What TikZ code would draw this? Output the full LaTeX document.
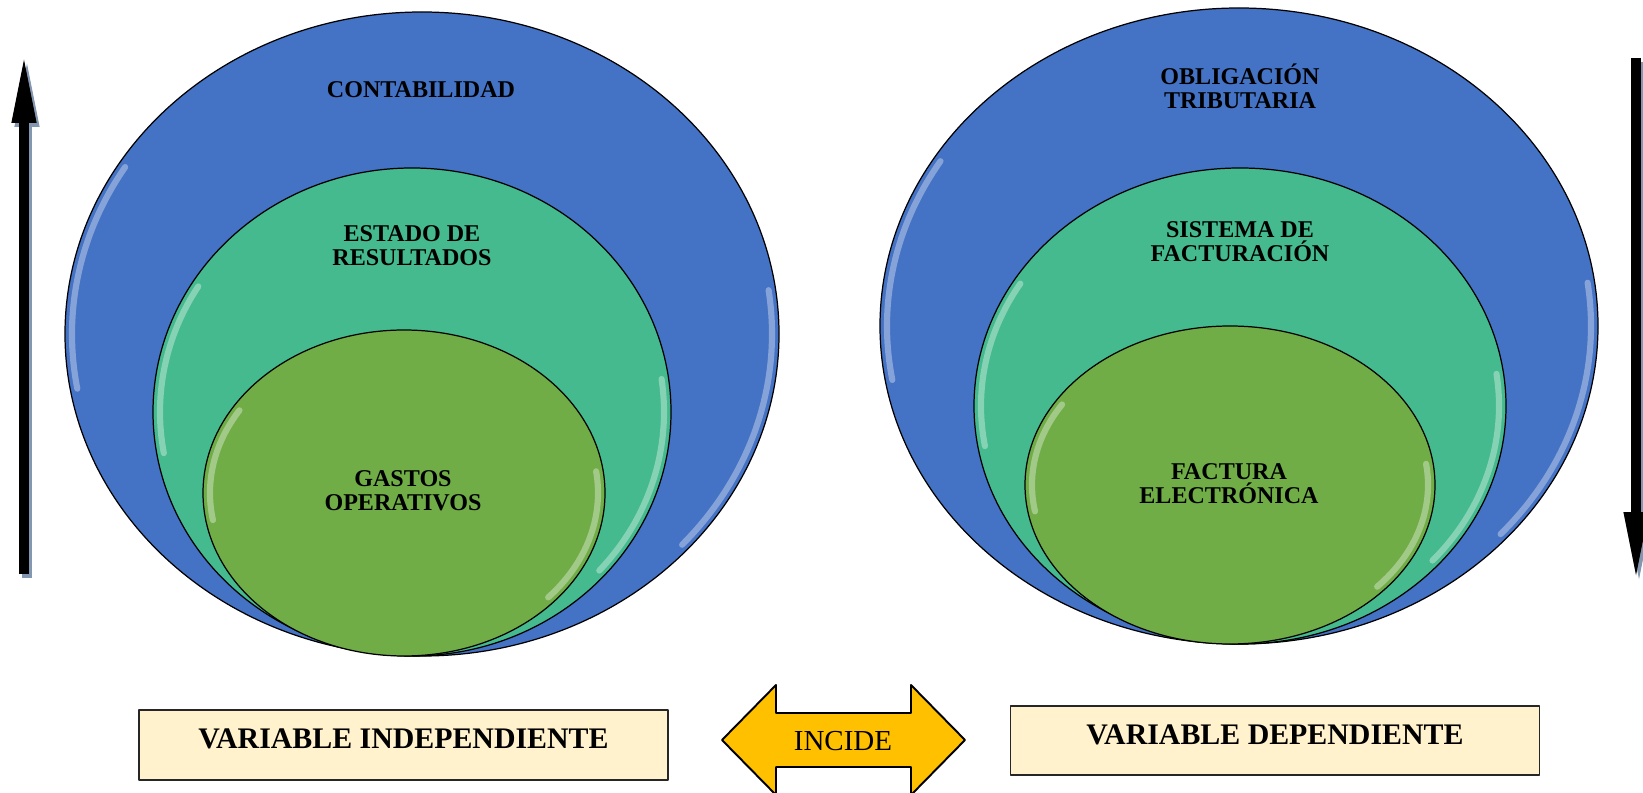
\documentclass[tikz,border=0pt]{standalone}
\usepackage{fontspec}
\setmainfont{Liberation Serif}
\usetikzlibrary{arrows.meta}
\definecolor{azul}{HTML}{4472C4}
\definecolor{turquesa}{HTML}{44BA8E}
\definecolor{oliva}{HTML}{70AD47}
\definecolor{crema}{HTML}{FFF2CC}
\definecolor{ambar}{HTML}{FFC000}
\definecolor{sombra}{HTML}{8497B0}

\begin{document}
\begin{tikzpicture}[line cap=round,line join=round,x=0.02cm,y=-0.02cm,
  elipse/.style={draw=black,line width=0.7pt},
  brillo/.style={white,opacity=0.35,line width=3.5pt},
  etiqueta/.style={font=\fontsize{13.7}{13.7}\selectfont\bfseries,align=center},
  caja/.style={draw=black!85,line width=0.9pt,fill=crema,minimum width=10.58cm,minimum height=1.39cm,
    font=\fontsize{17}{19}\selectfont\bfseries,text height=0.38cm,text depth=0.24cm},
  flecha/.style={line cap=butt,line width=0.2cm,-{Triangle[length=1.4cm,width=0.44cm]}}]
\useasboundingbox (0,0) rectangle (1643,793);
\clip (0,0) rectangle (1643,793);

% variable independiente
\draw[elipse,fill=azul] (422,334) ellipse (357 and 322);
\draw[brillo] (422,334) ++(170:350 and 315) arc (170:212:350 and 315);
\draw[brillo] (422,334) ++(-8:350 and 315) arc (-8:42:350 and 315);
\draw[elipse,fill=turquesa] (412,412) ellipse (259 and 244);
\draw[brillo] (412,412) ++(170:252 and 237) arc (170:212:252 and 237);
\draw[brillo] (412,412) ++(-8:252 and 237) arc (-8:42:252 and 237);
\draw[elipse,fill=oliva] (404,493) ellipse (201 and 163);
\draw[brillo] (404,493) ++(170:194 and 156) arc (170:212:194 and 156);
\draw[brillo] (404,493) ++(-8:194 and 156) arc (-8:42:194 and 156);

\node[etiqueta] (contab) at (421,90) {CONTABILIDAD};
\node[etiqueta] (estado) at (412,246) {ESTADO DE\\RESULTADOS};
\node[etiqueta] (gastos) at (403,491) {GASTOS\\OPERATIVOS};

% variable dependiente
\draw[elipse,fill=azul] (1239,326) ellipse (359 and 318);
\draw[brillo] (1239,326) ++(170:352 and 311) arc (170:212:352 and 311);
\draw[brillo] (1239,326) ++(-8:352 and 311) arc (-8:42:352 and 311);
\draw[elipse,fill=turquesa] (1240,406) ellipse (266 and 238);
\draw[brillo] (1240,406) ++(170:259 and 231) arc (170:212:259 and 231);
\draw[brillo] (1240,406) ++(-8:259 and 231) arc (-8:42:259 and 231);
\draw[elipse,fill=oliva] (1230,485) ellipse (205 and 159);
\draw[brillo] (1230,485) ++(170:198 and 152) arc (170:212:198 and 152);
\draw[brillo] (1230,485) ++(-8:198 and 152) arc (-8:42:198 and 152);

\node[etiqueta] (oblig) at (1240,86) {OBLIGACIÓN\\TRIBUTARIA};
\node[etiqueta] (sistema) at (1240,241.5) {SISTEMA DE\\FACTURACIÓN};
\node[etiqueta] (factura) at (1229,483.5) {FACTURA\\ELECTRÓNICA};

% flechas verticales
\coordinate (vi-pie) at (24,574);
\coordinate (vi-punta) at (24,53);
\coordinate (vd-pie) at (1636,58);
\coordinate (vd-punta) at (1636,582);
\draw[flecha,sombra] ([shift={(3,4)}]vi-pie) -- ([shift={(3,4)}]vi-punta);
\draw[flecha] (vi-pie) -- (vi-punta);
\draw[flecha,sombra] ([shift={(3,4)}]vd-pie) -- ([shift={(3,4)}]vd-punta);
\draw[flecha] (vd-pie) -- (vd-punta);

% cajas de variables
\node[caja] (indep) at (403.5,745) {VARIABLE INDEPENDIENTE};
\node[caja] (dep) at (1275,740.5) {VARIABLE DEPENDIENTE};

% flecha doble
\draw[line width=1.1pt,fill=ambar] (722,740) -- (776,685) -- (776,713) -- (911,713) -- (911,685)
  -- (965,740) -- (911,795) -- (911,767) -- (776,767) -- (776,795) -- cycle;
\node[font=\fontsize{16.5}{19}\selectfont] (incide) at (843,741) {INCIDE};
\end{tikzpicture}
\end{document}
